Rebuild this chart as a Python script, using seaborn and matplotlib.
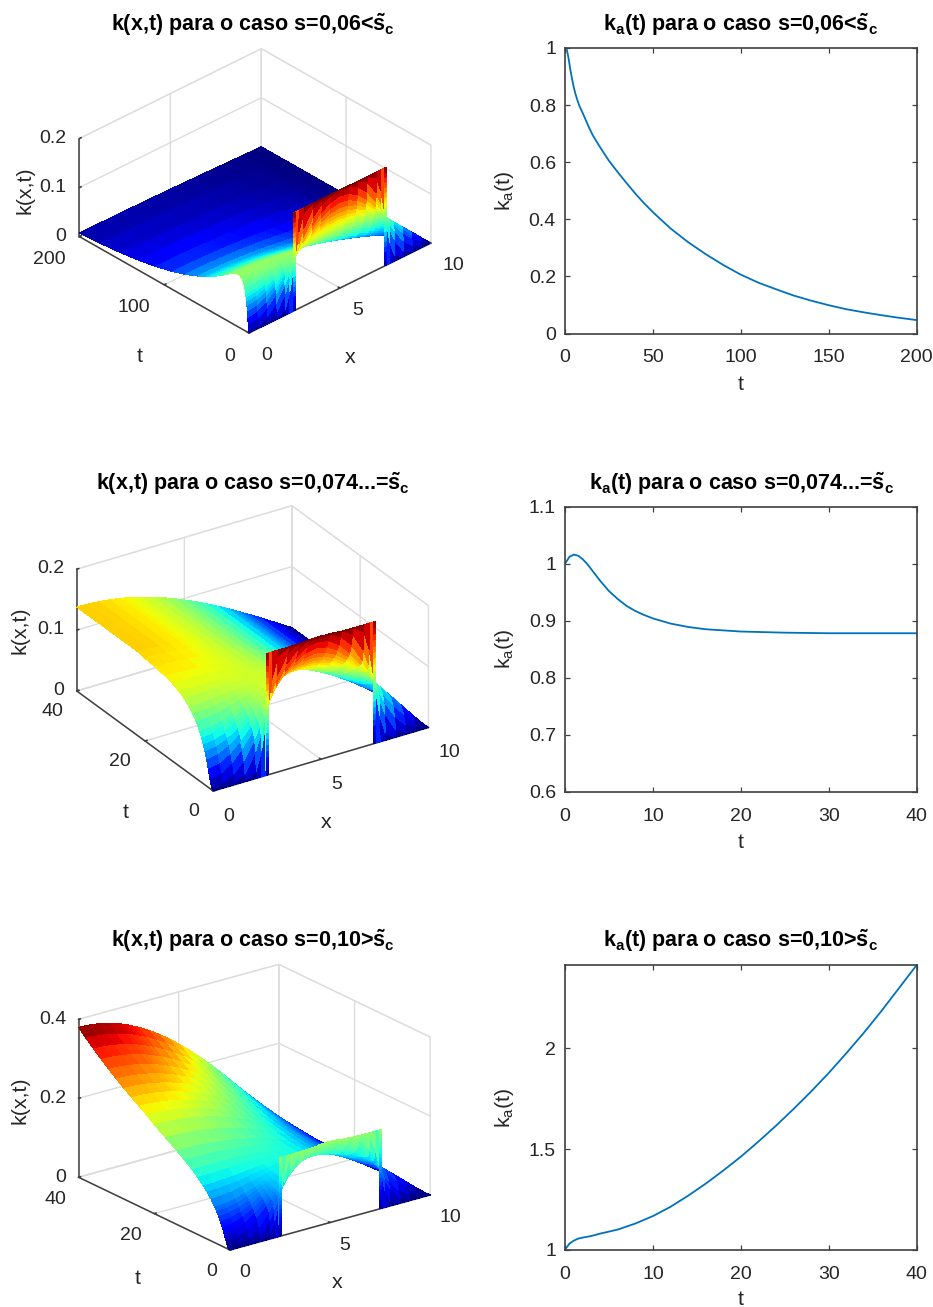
import numpy as np
import pandas as pd
import matplotlib
matplotlib.use("Agg")
import matplotlib.pyplot as plt
import seaborn as sns
from matplotlib.transforms import offset_copy
from mpl_toolkits.mplot3d import proj3d

# ---------- values ----------
x_nodes = [0,.5,1,1.5,2,2.25,2.45,2.55,2.75,3,3.5,4,4.5,5,5.5,6,6.5,7,7.25,7.45,7.55,7.75,8,8.5,9,9.5,10]
t_nodes = [0,.05,.2,.5,1,1.5,2,2.5,3,3.5,4,5,6,7,8.5,10,12,14,17,20,22,24,26,28,30,32,34,36,38,40]
k_late = [.1378,.1374,.1361,.134,.1311,.1293,.1277,.1269,.125,.1228,.1175,.1115,.1048,.0974,.0895,.081,.072,.0626,.0577,.0537,.0517,.0475,.0426,.0322,.0215,.0108,0]
k_critical = [
 [0,0,0,0,0,0,0,.2,.2,.2,.2,.2,.2,.2,.2,.2,.2,.2,.2,.2,0,0,0,0,0,0,0],
 [0,0,0,.0002,.0114,.0429,.0874,.1126,.1571,.1886,.1998,.2,.2,.2,.2,.2,.1998,.1886,.1571,.1126,.0874,.0429,.0114,.0002,0,0,0],
 [0,.0002,.0018,.0115,.0431,.0695,.0942,.1068,.1315,.1579,.1895,.1992,.2006,.201,.2006,.1992,.1895,.1579,.1315,.1068,.0942,.0695,.0431,.0115,.0018,.0002,0],
 [.0025,.005,.0139,.0322,.0624,.0812,.0972,.1053,.1212,.14,.1702,.1888,.1978,.1999,.1978,.1888,.1702,.14,.1212,.1053,.0972,.0812,.0624,.0322,.0135,.0045,0],
 [.0158,.0196,.031,.0497,.0742,.0882,.0996,.1054,.1169,.1306,.1554,.174,.1854,.1892,.1854,.174,.1554,.1306,.1169,.1054,.0996,.0882,.0742,.0487,.0283,.0126,0],
 [.0309,.0345,.0446,.0607,.081,.0923,.1015,.1062,.1154,.1266,.1469,.163,.1731,.1767,.1731,.163,.1469,.1262,.1148,.1054,.1005,.091,.0791,.0564,.0355,.0172,0],
 [.0443,.0475,.0561,.0693,.0862,.0955,.103,.1069,.1146,.1239,.1406,.1539,.1625,.1657,.1625,.1539,.1402,.1226,.1129,.1046,.1003,.0917,.081,.0596,.0393,.0193,0],
 [.0559,.0584,.0655,.0765,.0906,.0983,.1046,.1077,.114,.1219,.1363,.1473,.1544,.1567,.1541,.1464,.1344,.1191,.1104,.1029,.0991,.0913,.0815,.0612,.0407,.0203,0],
 [.0651,.0673,.0734,.083,.095,.1015,.1068,.1094,.1146,.1212,.1327,.1418,.1473,.1488,.1461,.1394,.1289,.1153,.1075,.1008,.0973,.0901,.081,.0617,.0414,.0208,0],
 [.0741,.0757,.0808,.0885,.0982,.1035,.1078,.11,.1143,.1197,.1297,.137,.1417,.1428,.1401,.1342,.1242,.1116,.1042,.098,.0947,.0878,.0789,.0605,.0405,.0206,0],
 [.0812,.0827,.0868,.0933,.1015,.1059,.1094,.1113,.1147,.1193,.1272,.1333,.1368,.1374,.1349,.1289,.1198,.108,.101,.0951,.092,.0854,.0772,.0592,.04,.0202,0],
 [.093,.094,.0968,.1012,.1068,.1098,.1122,.1134,.1157,.1187,.1238,.1277,.1295,.1291,.1261,.1204,.112,.1011,.0947,.0892,.0864,.0803,.0727,.056,.0379,.0192,0],
 [.1019,.1025,.1045,.1074,.1111,.1131,.1147,.1154,.1169,.1188,.122,.1239,.1244,.1227,.1192,.1133,.1052,.0949,.0888,.0837,.081,.0753,.0682,.0525,.0356,.018,0],
 [.1088,.1093,.1104,.1124,.1147,.1159,.1168,.1173,.118,.1192,.1207,.1212,.1204,.1179,.1137,.1075,.0994,.0894,.0837,.0787,.0762,.0707,.0641,.0493,.0334,.0169,0],
 [.1167,.1169,.1174,.1181,.1189,.1193,.1194,.1196,.1196,.1199,.1195,.1183,.116,.1123,.1073,.1007,.0924,.0828,.0773,.0726,.0702,.0652,.0589,.0452,.0306,.0154,0],
 [.1222,.1222,.1223,.1222,.122,.1218,.1216,.1214,.1209,.1205,.1189,.1165,.113,.1084,.1027,.0956,.0873,.0777,.0723,.0679,.0656,.0607,.0549,.042,.0284,.0143,0],
 [.1274,.1273,.1268,.1261,.125,.1242,.1235,.1231,.1222,.1212,.1183,.1147,.1102,.1048,.0984,.0909,.0824,.0729,.0677,.0634,.0612,.0566,.051,.039,.0262,.0132,0],
 [.1308,.1306,.1299,.1287,.127,.1259,.1249,.1244,.1231,.1217,.118,.1137,.1085,.1023,.0955,.0877,.079,.0695,.0644,.0602,.0581,.0536,.0483,.0367,.0247,.0124,0],
 [.1339,.1336,.1326,.131,.1288,.1274,.1261,.1255,.1239,.1222,.1178,.1127,.1068,.1002,.0928,.0847,.0759,.0665,.0615,.0573,.0553,.0509,.0458,.0347,.0233,.0117,0],
 [.1357,.1354,.1342,.1324,.1298,.1283,.1269,.1261,.1244,.1225,.1177,.1121,.1059,.0989,.0913,.083,.0741,.0647,.0597,.0557,.0536,.0493,.0443,.0336,.0225,.0113,0],
 k_late, k_late, k_late, k_late, k_late, k_late, k_late, k_late, k_late, k_late,
]
# the two vertical walls of the initial step at t=0
wall_x_left = [2.45, 2.55]
wall_x_right = [7.45, 7.55]
wall_levels = [0, .01, .02, .03, .04, .05, .06, .07, .08, .09, .1, .11, .12, .13, .14, .15, .16, .17, .18, .19, .2]
# ratio of each case's surface to the critical-case surface, row by row
t_extra_06 = [45, 50, 60, 75, 90, 110, 130, 150, 175, 200]
ratio_06 = [1,.999,.997,.993,.985,.978,.971,.964,.957,.95,.943,.929,.916,.902,.882,.863,.838,.814,.779,.745,
            .724,.703,.682,.663,.643,.625,.607,.589,.572,.555,
            .516,.479,.414,.332,.266,.199,.148,.11,.076,.053]
ratio_10 = [1,1.001,1.005,1.013,1.026,1.039,1.052,1.065,1.079,1.093,1.107,1.135,1.164,1.194,1.24,1.288,1.355,1.426,1.54,1.66,
            1.747,1.838,1.933,2.034,2.139,2.25,2.367,2.49,2.62,2.755]

ka_t_06 = [0,1,2,3,4,5,6,7,8,10,12,14,16,18,20,25,30,35,40,45,50,60,70,80,90,100,110,120,130,140,150,160,170,180,190,200]
ka_v_06 = [1,.995,.965,.925,.892,.862,.838,.818,.80,.773,.745,.717,.692,.672,.652,.605,.565,.527,.49,.456,.425,.368,.32,.278,.24,.206,.178,.155,.133,.115,.099,.085,.074,.064,.055,.047]
ka_t_074 = [0,.25,.5,1,1.5,2,2.5,3,3.5,4,4.5,5,5.5,6,7,8,9,10,12,14,16,18,20,25,30,35,40]
ka_v_074 = [1,1.006,1.012,1.016,1.014,1.008,1.0,.99,.98,.97,.961,.952,.945,.938,.926,.917,.91,.904,.895,.889,.885,.883,.881,.879,.878,.878,.878]
ka_t_10 = [0,.5,1,1.5,2,3,4,5,6,8,10,12,14,16,18,20,22,24,26,28,30,32,34,36,38,40]
ka_v_10 = [1,1.03,1.045,1.055,1.06,1.068,1.08,1.09,1.10,1.13,1.167,1.213,1.268,1.328,1.393,1.462,1.537,1.616,1.699,1.786,1.878,1.976,2.078,2.186,2.30,2.414]

titles_3d = ["k(x,t) para o caso s=0,06<", "k(x,t) para o caso s=0,074...=", "k(x,t) para o caso s=0,10>"]
titles_2d = ["para o caso s=0,06<", "para o caso s=0,074...=", "para o caso s=0,10>"]
x_ticks = [0, 5, 10]
t_ticks_3d = [[0, 100, 200], [0, 20, 40], [0, 20, 40]]
z_ticks = [[0, .1, .2], [0, .1, .2], [0, .2, .4]]
z_labels = [["0", "0.1", "0.2"], ["0", "0.1", "0.2"], ["0", "0.2", "0.4"]]
t_ticks_2d = [[0, 50, 100, 150, 200], [0, 10, 20, 30, 40], [0, 10, 20, 30, 40]]
y_ticks = [[0, .2, .4, .6, .8, 1], [.6, .7, .8, .9, 1, 1.1], [1, 1.5, 2]]
y_labels = [["0", "0.2", "0.4", "0.6", "0.8", "1"], ["0.6", "0.7", "0.8", "0.9", "1", "1.1"], ["1", "1.5", "2"]]

# ---------- style ----------
W, H = 933, 1307
sns.set_theme(style="white", rc={"axes.edgecolor": "#404040", "text.color": "#262626",
                                 "xtick.color": "#404040", "ytick.color": "#404040"})
plt.rcParams.update({"font.family": ["Liberation Sans", "DejaVu Sans"],
                     "mathtext.fontset": "custom", "mathtext.rm": "Liberation Sans",
                     "mathtext.bf": "Liberation Sans:bold", "mathtext.it": "Liberation Sans:italic",
                     "axes.grid": True, "grid.color": "#dcdcdc", "grid.linewidth": 1.0})
fig = plt.figure(figsize=(W / 100, H / 100), dpi=100, facecolor="white")
TICK = 14
LABEL = 15.4
TITLE = 15.5
DARK = "#404040"
TEXT = "#262626"
LINE = "#0072BD"

# ---------- 3-D surfaces ----------
base = np.array(k_critical)
T06 = np.array(t_nodes + t_extra_06)
K06 = np.vstack([base, np.tile(base[-1], (len(t_extra_06), 1))]) * np.array(ratio_06)[:, None]
K10 = base * np.array(ratio_10)[:, None]
surfaces = [(T06, K06, .2, 200, .2), (np.array(t_nodes), base, .2, 40, .2), (np.array(t_nodes), K10, .38, 40, .4)]
views = [(32.0, -133.0, .465), (27.7, -122.4, .54), (21.3, -127.1, .675)]
# pixel places of the box corners: front, x end, t end
corners = [((249, 333), (429.5, 244), (78, 236)),
           ((213.3, 791), (430, 726.7), (78.3, 691.7)),
           ((230, 1250), (430, 1195), (78.3, 1177.3))]
pads_x = [1.5, 2.5, 1.0]
pads_t = [2.5, 1.0, 1.0]
pads_z = [-3.0, -3.0, -3.0]
title_y = [31, 490, 947]
label_x = [(350, 358), (326, 823), (337, 1283)]
label_t = [(140, 357), (126, 813), (138, 1278)]
label_z = [(25, 190), (20, 630), (20, 1100)]
xlabel_y = [-.18, -.18, -.176]

for i in range(3):
    tt, kk, vmax, tmax, zmax = surfaces[i]
    elev, azim, r = views[i]
    ax = fig.add_axes([.1, .1, .3, .3 * W / H], projection="3d", proj_type="ortho", computed_zorder=False)
    ax.patch.set_alpha(0)
    ax.view_init(elev=elev, azim=azim)
    ax.set_box_aspect((1, 1, r))
    XX, TT = np.meshgrid(np.array(x_nodes), tt)
    ax.plot_surface(XX, TT, kk, cmap="jet", vmin=0, vmax=vmax, rstride=1, cstride=1,
                    linewidth=0, antialiased=False, shade=False, zorder=2)
    for wx in (wall_x_left, wall_x_right):
        WX, WZ = np.meshgrid(np.array(wx), np.array(wall_levels))
        ax.plot_surface(WX, np.zeros_like(WX), WZ, cmap="jet", vmin=0, vmax=vmax, rstride=1, cstride=1,
                        linewidth=0, antialiased=False, shade=False, zorder=3)
    ax.set_xlim(0, 10, view_margin=0)
    ax.set_ylim(0, tmax, view_margin=0)
    ax.set_zlim(0, zmax, view_margin=0)
    ax.set_xticks(x_ticks)
    ax.set_yticks(t_ticks_3d[i])
    ax.set_zticks(z_ticks[i])
    ax.set_xticklabels([str(v) for v in x_ticks], fontsize=TICK, color=TEXT, ha="left")
    ax.set_yticklabels([str(v) for v in t_ticks_3d[i]], fontsize=TICK, color=TEXT, ha="right")
    ax.set_zticklabels(z_labels[i], fontsize=TICK, color=TEXT, ha="right")
    for a in (ax.xaxis, ax.yaxis, ax.zaxis):
        a.pane.set_facecolor("white")
        a.pane.set_edgecolor("#dcdcdc")
        a.pane.set_linewidth(1.0)
        a.line.set_color(DARK)
        a.line.set_linewidth(1.1)
        a._axinfo["tick"]["outward_factor"] = .12
        a._axinfo["tick"]["inward_factor"] = 0.0
        a._axinfo["grid"]["color"] = "#dcdcdc"
        a._axinfo["grid"]["linewidth"] = 1.0
    ax.tick_params(axis="x", pad=pads_x[i])
    ax.tick_params(axis="y", pad=pads_t[i])
    ax.tick_params(axis="z", pad=pads_z[i])
    # raise the z tick labels a little; the 3-D axis resets their transform at draw time, so hold it
    for tick in ax.zaxis.get_major_ticks():
        tick.label1.set_transform(offset_copy(ax.transData, fig=fig, y=8, units="dots"))
        tick.label1.set_transform = lambda _t: None
    # place the axes so the box corners land where they are in the picture
    M = ax.get_proj()
    def frac(px, py, pz):
        a, b, _ = proj3d.proj_transform(px, py, pz, M)
        return ax.transLimits.transform((a, b))
    f0, fx, ft = frac(0, 0, 0), frac(10, 0, 0), frac(0, tmax, 0)
    (c0, cx, ct) = corners[i]
    side = (cx[0] - ct[0]) / (fx[0] - ft[0])
    left = c0[0] - side * f0[0]
    bottom = (H - c0[1]) - side * f0[1]
    ax.set_position([left / W, bottom / H, side / W, side / H])
    title = ax.set_title(titles_3d[i] + r"$\mathbf{\tilde{s}_c}$", fontsize=TITLE, fontweight="bold", color="black",
                         va="baseline", ha="center", transform=fig.transFigure, y=1.0)
    title.set_position((253 / W, 1 - title_y[i] / H))
    ax._autotitlepos = False
    for (px, py), s, rot in ((label_x[i], "x", 0), (label_t[i], "t", 0), (label_z[i], "k(x,t)", 90)):
        ax.text2D(px / W, 1 - py / H, s, transform=fig.transFigure, fontsize=LABEL, color=TEXT,
                  ha="center", va="center", rotation=rot)

# ---------- 2-D curves ----------
curves = [(ka_t_06, ka_v_06, 200, (0, 1)), (ka_t_074, ka_v_074, 40, (.6, 1.1)), (ka_t_10, ka_v_10, 40, (1, 2.414))]
boxes = [(48, 333.5), (506.7, 791.7), (965, 1249.7)]
for i in range(3):
    tv, kv, tmax, ylim = curves[i]
    top, bot = boxes[i]
    ax = fig.add_axes([565 / W, 1 - bot / H, (916.7 - 565) / W, (bot - top) / H])
    df = pd.DataFrame({"t": tv, "ka": kv})
    sns.lineplot(data=df, x="t", y="ka", ax=ax, color=LINE, linewidth=1.3, errorbar=None)
    ax.set_xlim(0, tmax)
    ax.set_ylim(*ylim)
    ax.grid(False)
    ax.set_xticks(t_ticks_2d[i])
    ax.set_xticklabels([str(v) for v in t_ticks_2d[i]], fontsize=TICK, color=TEXT)
    ax.set_yticks(y_ticks[i])
    ax.set_yticklabels(y_labels[i], fontsize=TICK, color=TEXT)
    ax.tick_params(axis="both", direction="in", length=3.5, width=.9, top=True, right=True, bottom=True, left=True)
    ax.tick_params(axis="x", pad=11.5)
    ax.tick_params(axis="y", pad=6.5)
    for s in ax.spines.values():
        s.set_linewidth(1.2)
        s.set_color(DARK)
    ax.set_xlabel("t", fontsize=LABEL, va="center")
    ax.xaxis.set_label_coords(.5, xlabel_y[i])
    ax.set_ylabel(r"k$_{\mathrm{a}}$(t)", fontsize=LABEL, va="center")
    ax.yaxis.set_label_coords(-.173, .5)
    ax.set_title(r"k$_{\mathbf{a}}$(t) " + titles_2d[i] + r"$\mathbf{\tilde{s}_c}$", fontsize=TITLE,
                 fontweight="bold", color="black", y=1 - title_y[i] / H, x=741 / W, va="baseline",
                 ha="center", transform=fig.transFigure)

fig.savefig("out.png", dpi=100, facecolor="white")
